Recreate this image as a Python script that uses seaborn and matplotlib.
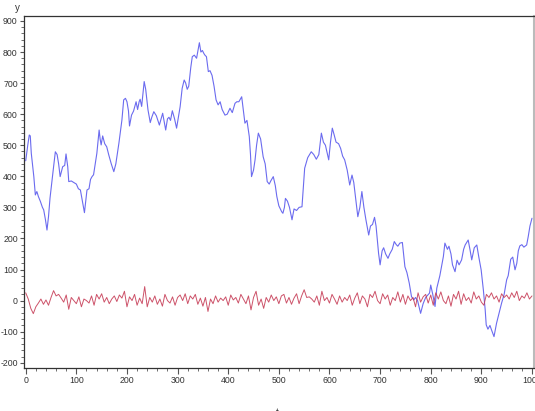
import numpy as np
import pandas as pd
import seaborn as sns
import matplotlib
matplotlib.use("Agg")
import matplotlib.pyplot as plt
from matplotlib.ticker import MultipleLocator

# blue series: random walk
walk_t = [0, 4, 7, 9, 11, 16, 19, 22, 25, 29, 33, 35.5, 39, 42, 45, 48, 52, 55, 58.5, 62,
          65, 68, 73, 77, 79.6, 83, 85, 90, 95, 100, 104, 108, 111, 116, 121, 125, 128, 131, 134, 137.5,
          140.5, 145, 147, 149, 152, 156, 160, 164, 169, 174, 178, 184, 190, 193.5, 197, 200, 203, 205, 209, 213,
          218, 221, 224, 226, 229, 234, 237, 241.5, 246, 249, 253, 258, 264, 270.5, 276.5, 280, 283, 286, 289.6, 294,
          298, 305, 309, 313, 316, 319, 322, 326, 329, 333, 337.5, 343, 346, 349, 352, 354, 357, 360.7, 364, 368,
          372, 376, 380, 384, 388, 393.6, 398, 403.5, 408, 413.4, 417, 421, 426.6, 430, 433, 437, 441.6, 444, 446, 450,
          453, 456, 459.5, 464, 469, 473, 477, 481, 484, 489, 493, 496, 500, 505.6, 508, 511, 513, 517, 521, 526,
          530, 535, 540, 545.7, 551, 557, 564, 569, 574, 579, 584, 588, 592, 598.5, 602, 605.6, 609, 613, 618, 622,
          626, 630, 635, 640, 644.5, 648, 653, 656, 660, 664, 668, 672, 677.5, 681, 685, 689, 692, 697, 700, 704,
          707, 711, 715.6, 719, 724, 728, 732, 735, 739, 744, 749, 753, 757.6, 762, 766.5, 770, 774, 780, 785, 790,
          797.6, 800, 804, 808.5, 812, 818, 825, 828, 833, 836, 840, 843, 848, 852, 856, 861, 865, 868, 874, 878,
          881, 886, 891, 895, 899.6, 904, 907.6, 909.6, 913, 917, 920, 925, 930, 935, 940, 945, 950, 953, 958, 962,
          966.5, 970, 973, 976, 980, 984, 989.5, 992.6, 996, 1000]
walk_y = [450, 500, 533, 530, 474, 399, 340, 351, 335, 319, 300, 292, 260, 227, 270, 330, 388, 430, 479, 470,
          440, 399, 431, 435, 472, 431, 383, 385, 380, 375, 360, 356, 329, 283, 356, 360, 390, 399, 405, 442,
          474, 549, 520, 501, 530, 505, 495, 469, 440, 415, 440, 506, 581, 646, 651, 640, 610, 562, 597, 610,
          640, 615, 640, 648, 625, 705, 680, 614, 573, 590, 608, 595, 565, 603, 549, 585, 590, 580, 611, 585,
          555, 624, 683, 710, 700, 680, 690, 750, 785, 790, 780, 830, 800, 805, 795, 790, 785, 737, 740, 725,
          690, 646, 630, 640, 615, 597, 600, 619, 605, 635, 640, 640, 656, 610, 571, 580, 528, 470, 399, 420,
          453, 500, 539, 520, 463, 440, 383, 375, 385, 399, 370, 335, 305, 286, 281, 300, 329, 320, 300, 260,
          295, 290, 300, 302, 426, 460, 479, 470, 455, 470, 539, 510, 500, 453, 510, 555, 535, 510, 505, 490,
          465, 453, 420, 372, 404, 380, 313, 270, 300, 351, 300, 260, 211, 240, 245, 268, 240, 152, 115, 160,
          170, 150, 136, 150, 165, 190, 180, 175, 185, 187, 109, 90, 56, 13, 2, 10, 0, -41, -10, 10,
          24, 50, 20, -19, 40, 80, 142, 185, 165, 175, 150, 115, 93, 130, 115, 131, 165, 179, 195, 160,
          131, 170, 179, 140, 99, 34, -30, -78, -92, -80, -94, -116, -73, -40, -8, 20, 67, 80, 133, 140,
          99, 120, 160, 176, 180, 172, 179, 206, 240, 265]

# red series: noise around zero, sampled every 5 steps
noise_y = [25, 5, -25, -42, -20, -8, 5, -12, 2, -15, 10,
           32, 15, 20, 8, -5, 18, -28, 10, 0, -10,
           12, -20, 5, 0, -8, 15, -15, 20, 5, 22,
           -5, 10, -10, 5, 15, -3, 18, 8, 30, -20,
           12, 0, 20, -15, 8, -10, 45, -20, 10, -5,
           15, -12, 5, -18, 20, 0, -8, 12, -15, 10,
           18, 0, 22, -10, 15, 5, 20, -12, 8, -18,
           10, -35, 5, -10, 15, -5, 8, 0, 12, -15,
           18, 2, 10, -8, 20, 5, -10, 15, -30, 10,
           30, -15, 5, -25, 10, -5, 18, 0, 12, -10,
           15, 20, -8, 10, -12, 8, 22, -10, 15, 35,
           10, 12, 5, -5, 15, -15, 30, 0, 10, -8,
           20, 5, -12, 15, -5, 10, 0, 18, -15, 8,
           25, -10, 15, 5, -20, 20, 10, 30, 0, -10,
           22, 5, 18, -15, 10, 0, 28, -5, 20, -12,
           15, 0, 10, -20, 25, -5, 12, 20, -8, 18,
           -15, 25, 5, 28, 0, -10, 15, -18, 20, 5,
           30, -12, 22, 0, 10, -8, 28, 5, 15, -5,
           -15, 20, 10, 25, 5, 15, -5, 22, 10, 18,
           5, 25, 10, 30, 0, 15, 8, 25, 5, 15]
noise_t = np.arange(0, 1001, 5)

walk = pd.DataFrame({"t": walk_t, "y": walk_y})
noise = pd.DataFrame({"t": noise_t, "y": noise_y})

sns.set_style("ticks")
plt.rcParams["font.family"] = ["Liberation Sans Narrow", "Liberation Sans", "DejaVu Sans"]
plt.rcParams["axes.unicode_minus"] = False

fig = plt.figure(figsize=(5.35, 4.11), dpi=100)
ax = fig.add_axes([24 / 535, 1 - 368 / 411, 510 / 535, 352 / 411])

sns.lineplot(x="t", y="y", data=walk, color="#6b6bef", linewidth=0.8, ax=ax)
sns.lineplot(x="t", y="y", data=noise, color="#c4344f", linewidth=0.7, alpha=0.85, ax=ax)

ax.set_xlim(-3.4, 1004)
ax.set_ylim(-217, 916)
ax.set(xlabel="", ylabel="")

ax.xaxis.set_major_locator(MultipleLocator(100))
ax.xaxis.set_minor_locator(MultipleLocator(20))
ax.yaxis.set_major_locator(MultipleLocator(100))
ax.yaxis.set_minor_locator(MultipleLocator(20))
ax.tick_params(axis="both", which="major", labelsize=6.3, labelcolor="#333333",
               color="#555555", length=4, width=0.8, pad=1.5)
ax.tick_params(axis="y", which="major", length=3)
ax.tick_params(axis="both", which="minor", color="#555555", length=2, width=0.6)

for side in ["left", "bottom", "top"]:
    ax.spines[side].set_color("#333333")
    ax.spines[side].set_linewidth(0.9)
ax.spines["right"].set_color("#bbbbbb")
ax.spines["right"].set_linewidth(1.5)

fig.text(17 / 535, 1 - 8 / 411, "y", ha="center", va="center", fontsize=7, color="#333333")
fig.text(277 / 535, -2 / 411, "t", ha="center", va="center", fontsize=7, color="#333333")

fig.savefig("out.png", dpi=100)
